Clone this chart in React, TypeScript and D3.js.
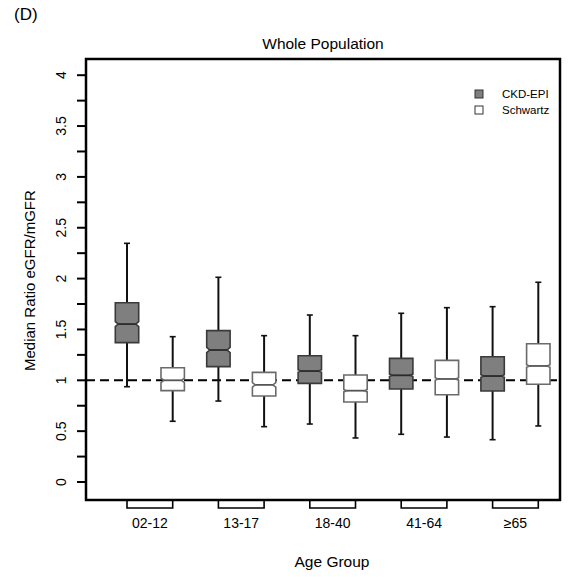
import React from "react";
import * as d3 from "d3";

// Age groups on the x axis
const groups = ["02-12", "13-17", "18-40", "41-64", "≥65"];

// Box statistics per group: [lower whisker, Q1, median, Q3, upper whisker, notch half-height]
const ckdEpi: number[][] = [
  [0.937, 1.37, 1.553, 1.763, 2.347, 0.025],
  [0.796, 1.134, 1.298, 1.488, 2.013, 0.025],
  [0.57, 0.97, 1.091, 1.242, 1.642, 0.012],
  [0.469, 0.914, 1.049, 1.216, 1.659, 0.012],
  [0.416, 0.895, 1.042, 1.232, 1.724, 0.012],
];
const schwartz: number[][] = [
  [0.597, 0.898, 1.0, 1.124, 1.429, 0.022],
  [0.544, 0.846, 0.955, 1.078, 1.439, 0.022],
  [0.433, 0.787, 0.898, 1.052, 1.439, 0.012],
  [0.442, 0.858, 1.013, 1.196, 1.714, 0.012],
  [0.551, 0.961, 1.141, 1.36, 1.964, 0.012],
];

const yLabelTicks = [0, 0.5, 1, 1.5, 2, 2.5, 3, 3.5, 4];
const yMinorTicks = d3.range(0, 4.001, 0.25);

const seriesNames = ["CKD-EPI", "Schwartz"];
const seriesFill = ["#7f7f7f", "#ffffff"];
const seriesStroke = ["#3a3a3a", "#6a6a6a"];

const W = 587;
const H = 577;
const frame = { left: 86, right: 560, top: 59, bottom: 500 };

const y = d3.scaleLinear().domain([0, 4]).range([482, 75.2]);
// positions 1..10: CKD-EPI / Schwartz boxes alternate
const x = d3.scaleLinear().domain([1, 10]).range([127, 538.3]);

const boxHalf = 11.7;
const capHalf = 3;
const font = "Liberation Sans, Arial, Helvetica, sans-serif";

function boxPath(cx: number, s: number[]) {
  const [, q1, med, q3, , nh] = s;
  const inset = boxHalf * 0.25;
  const L = cx - boxHalf;
  const R = cx + boxHalf;
  const pts: [number, number][] = [
    [L, y(q3)],
    [R, y(q3)],
    [R, y(med + nh)],
    [R - inset, y(med)],
    [R, y(med - nh)],
    [R, y(q1)],
    [L, y(q1)],
    [L, y(med - nh)],
    [L + inset, y(med)],
    [L, y(med + nh)],
  ];
  return d3.line()(pts) + "Z";
}

function Box({ cx, s, k }: { cx: number; s: number[]; k: number }) {
  const [lo, q1, med, q3, hi] = s;
  const inset = boxHalf * 0.25;
  return (
    <g>
      <line x1={cx} x2={cx} y1={y(q3)} y2={y(hi)} stroke="#111" strokeWidth={2} />
      <line x1={cx} x2={cx} y1={y(q1)} y2={y(lo)} stroke="#111" strokeWidth={2} />
      <line x1={cx - capHalf} x2={cx + capHalf} y1={y(hi)} y2={y(hi)} stroke="#111" strokeWidth={1.6} />
      <line x1={cx - capHalf} x2={cx + capHalf} y1={y(lo)} y2={y(lo)} stroke="#111" strokeWidth={1.6} />
      <path d={boxPath(cx, s)} fill={seriesFill[k]} stroke={seriesStroke[k]} strokeWidth={1.6} />
      <line
        x1={cx - boxHalf + inset}
        x2={cx + boxHalf - inset}
        y1={y(med)}
        y2={y(med)}
        stroke={k === 0 ? "#2a2a2a" : "#555"}
        strokeWidth={1.8}
      />
    </g>
  );
}

export default function App() {
  return (
    <svg width={W} height={H} style={{ position: "absolute", left: 0, top: 0 }} fontFamily={font}>
      <rect width={W} height={H} fill="#fff" />
      <text x={14} y={19.5} fontSize={17}>(D)</text>
      <text x={(frame.left + frame.right) / 2} y={49} fontSize={15.5} textAnchor="middle">
        Whole Population
      </text>

      {/* y axis */}
      {yMinorTicks.map((t) => (
        <line key={"m" + t} x1={frame.left - 9} x2={frame.left} y1={y(t)} y2={y(t)} stroke="#000" strokeWidth={2} />
      ))}
      {yLabelTicks.map((t) => (
        <text
          key={"l" + t}
          transform={`translate(${66},${y(t)}) rotate(-90)`}
          textAnchor="middle"
          fontSize={14}
        >
          {String(t)}
        </text>
      ))}
      <text
        transform={`translate(35,${(y(0) + y(4)) / 2 + 2}) rotate(-90)`}
        textAnchor="middle"
        fontSize={15}
      >
        Median Ratio eGFR/mGFR
      </text>

      {/* reference line at ratio 1 */}
      <line
        x1={frame.left}
        x2={frame.right}
        y1={y(1)}
        y2={y(1)}
        stroke="#000"
        strokeWidth={2}
        strokeDasharray="9,5"
      />

      {groups.map((g, i) => (
        <g key={g}>
          <Box cx={x(2 * i + 1)} s={ckdEpi[i]} k={0} />
          <Box cx={x(2 * i + 2)} s={schwartz[i]} k={1} />
        </g>
      ))}

      {/* frame */}
      <rect
        x={frame.left}
        y={frame.top}
        width={frame.right - frame.left}
        height={frame.bottom - frame.top}
        fill="none"
        stroke="#000"
        strokeWidth={2.5}
      />

      {/* x axis: one bracket per age group */}
      {groups.map((g, i) => {
        const a = x(2 * i + 1);
        const b = x(2 * i + 2);
        return (
          <g key={"x" + g}>
            <path
              d={`M${a},${frame.bottom} V${frame.bottom + 8} H${b} V${frame.bottom}`}
              fill="none"
              stroke="#000"
              strokeWidth={1.6}
            />
            <text x={(a + b) / 2} y={528} textAnchor="middle" fontSize={14}>
              {g}
            </text>
          </g>
        );
      })}
      <text x={332} y={567} textAnchor="middle" fontSize={15.5}>
        Age Group
      </text>

      {/* legend */}
      {seriesNames.map((n, k) => (
        <g key={n} transform={`translate(475,${90 + k * 16})`}>
          <rect x={0} y={0} width={8} height={8} fill={seriesFill[k]} stroke="#333" strokeWidth={1} />
          <text x={27} y={8} fontSize={11.5}>
            {n}
          </text>
        </g>
      ))}
    </svg>
  );
}
